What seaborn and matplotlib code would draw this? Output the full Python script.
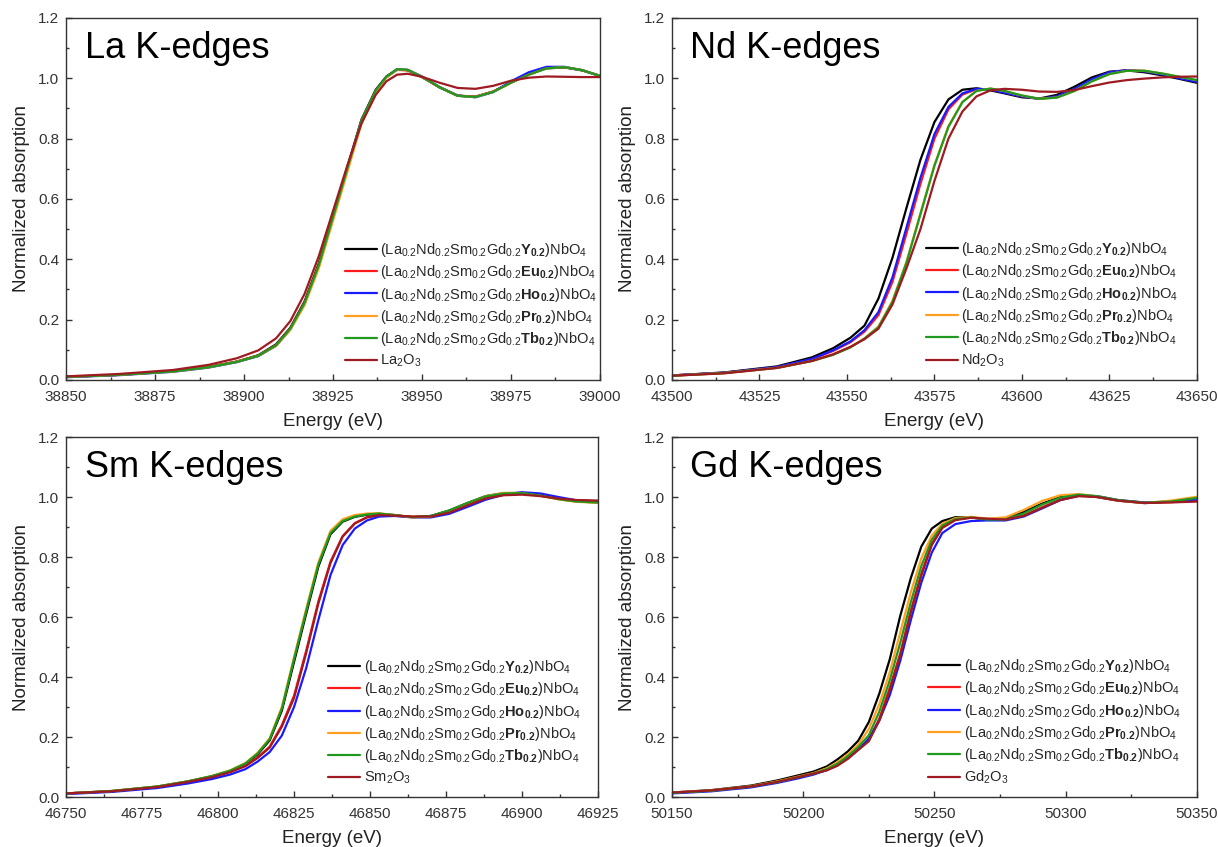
import pandas as pd
import numpy as np
import seaborn as sns
import matplotlib.pyplot as plt
from matplotlib.ticker import AutoMinorLocator, MultipleLocator, FormatStrFormatter

sns.set_theme(style='ticks')
plt.rcParams['font.family'] = ['Liberation Sans', 'DejaVu Sans']
plt.rcParams['mathtext.fontset'] = 'custom'
plt.rcParams['mathtext.rm'] = 'Liberation Sans'
plt.rcParams['mathtext.it'] = 'Liberation Sans:italic'
plt.rcParams['mathtext.bf'] = 'Liberation Sans:bold'

# sample names, legend order
dopants = ['Y', 'Eu', 'Ho', 'Pr', 'Tb']
colors = ['#000000', '#ff1a1a', '#1a1aff', '#ffa020', '#1f9a1f', '#9e1b22']

# ---- La K-edge ----
la_energy = [38850, 38865, 38880, 38890, 38898, 38904, 38909, 38913, 38917, 38921, 38925, 38929, 38933, 38937,
             38940, 38943, 38946, 38950, 38955, 38960, 38965, 38970, 38975, 38980, 38985, 38990, 38995, 39000]
la_y = [0.010, 0.017, 0.029, 0.043, 0.061, 0.082, 0.118, 0.173, 0.260, 0.386, 0.546, 0.705, 0.863, 0.962,
        1.006, 1.030, 1.027, 1.004, 0.969, 0.942, 0.939, 0.956, 0.986, 1.013, 1.033, 1.036, 1.026, 1.008]
la_eu = [0.010, 0.017, 0.029, 0.043, 0.061, 0.081, 0.116, 0.171, 0.257, 0.383, 0.543, 0.702, 0.861, 0.960,
         1.004, 1.028, 1.026, 1.004, 0.970, 0.943, 0.939, 0.956, 0.986, 1.013, 1.034, 1.037, 1.027, 1.008]
la_ho = [0.009, 0.016, 0.027, 0.041, 0.059, 0.079, 0.113, 0.167, 0.252, 0.377, 0.537, 0.698, 0.858, 0.959,
         1.004, 1.029, 1.028, 1.006, 0.971, 0.943, 0.937, 0.954, 0.990, 1.020, 1.038, 1.038, 1.027, 1.008]
la_pr = [0.010, 0.017, 0.028, 0.042, 0.060, 0.080, 0.113, 0.166, 0.248, 0.370, 0.528, 0.688, 0.850, 0.955,
         1.002, 1.029, 1.028, 1.005, 0.970, 0.942, 0.938, 0.955, 0.985, 1.012, 1.033, 1.037, 1.027, 1.008]
la_tb = [0.010, 0.017, 0.028, 0.042, 0.060, 0.080, 0.115, 0.170, 0.255, 0.380, 0.540, 0.700, 0.860, 0.960,
         1.005, 1.030, 1.028, 1.005, 0.970, 0.942, 0.938, 0.955, 0.985, 1.012, 1.033, 1.037, 1.027, 1.008]
la_oxide = [0.012, 0.020, 0.033, 0.050, 0.072, 0.098, 0.138, 0.195, 0.285, 0.410, 0.560, 0.710, 0.850, 0.945,
            0.990, 1.012, 1.015, 1.005, 0.985, 0.968, 0.965, 0.975, 0.992, 1.002, 1.006, 1.005, 1.004, 1.004]

# ---- Nd K-edge ----
nd_energy = [43500, 43515, 43530, 43540, 43546, 43551, 43555, 43559, 43563, 43567, 43571, 43575, 43579, 43583,
             43587, 43591, 43595, 43600, 43605, 43610, 43615, 43620, 43625, 43630, 43635, 43640, 43645, 43650]
nd_y = [0.015, 0.025, 0.045, 0.075, 0.105, 0.140, 0.180, 0.270, 0.405, 0.570, 0.730, 0.855, 0.930, 0.962,
        0.967, 0.960, 0.950, 0.937, 0.933, 0.945, 0.972, 1.003, 1.022, 1.026, 1.020, 1.010, 0.998, 0.985]
nd_eu = [0.015, 0.024, 0.042, 0.069, 0.096, 0.125, 0.160, 0.215, 0.325, 0.485, 0.650, 0.800, 0.897, 0.946,
         0.964, 0.964, 0.953, 0.940, 0.932, 0.939, 0.963, 0.995, 1.019, 1.027, 1.024, 1.014, 1.002, 0.990]
nd_ho = [0.015, 0.024, 0.043, 0.070, 0.098, 0.128, 0.165, 0.225, 0.340, 0.505, 0.670, 0.815, 0.905, 0.950,
         0.965, 0.963, 0.952, 0.940, 0.932, 0.940, 0.965, 0.997, 1.020, 1.027, 1.023, 1.013, 1.000, 0.988]
nd_pr = [0.014, 0.023, 0.040, 0.063, 0.084, 0.109, 0.138, 0.177, 0.262, 0.392, 0.553, 0.713, 0.842, 0.922,
         0.958, 0.966, 0.958, 0.943, 0.932, 0.936, 0.958, 0.990, 1.014, 1.025, 1.025, 1.016, 1.005, 0.994]
nd_tb = [0.014, 0.023, 0.040, 0.063, 0.083, 0.108, 0.137, 0.175, 0.259, 0.388, 0.549, 0.710, 0.839, 0.921,
         0.958, 0.966, 0.958, 0.943, 0.932, 0.936, 0.958, 0.990, 1.014, 1.025, 1.025, 1.016, 1.005, 0.994]
nd_oxide = [0.014, 0.022, 0.040, 0.063, 0.085, 0.110, 0.135, 0.170, 0.250, 0.370, 0.500, 0.660, 0.800, 0.890,
            0.940, 0.960, 0.965, 0.962, 0.956, 0.955, 0.961, 0.974, 0.986, 0.994, 0.999, 1.003, 1.005, 1.006]

# ---- Sm K-edge ----
sm_energy = [46750, 46765, 46780, 46790, 46798, 46804, 46809, 46813, 46817, 46821, 46825, 46829, 46833, 46837, 46841,
             46845, 46849, 46853, 46858, 46864, 46870, 46876, 46882, 46888, 46894, 46900, 46906, 46912, 46918, 46925]
sm_y = [0.012, 0.020, 0.035, 0.052, 0.069, 0.087, 0.110, 0.142, 0.189, 0.288, 0.450, 0.611, 0.768, 0.876, 0.918,
        0.934, 0.941, 0.944, 0.940, 0.933, 0.937, 0.955, 0.980, 1.003, 1.013, 1.014, 1.006, 0.994, 0.985, 0.982]
sm_eu = [0.012, 0.019, 0.033, 0.050, 0.066, 0.084, 0.104, 0.132, 0.168, 0.240, 0.338, 0.488, 0.652, 0.785, 0.870,
         0.913, 0.933, 0.940, 0.938, 0.934, 0.935, 0.950, 0.975, 0.998, 1.009, 1.011, 1.005, 0.995, 0.989, 0.987]
sm_ho = [0.010, 0.017, 0.030, 0.045, 0.060, 0.075, 0.093, 0.118, 0.150, 0.205, 0.300, 0.430, 0.590, 0.740, 0.840,
         0.895, 0.922, 0.935, 0.937, 0.932, 0.932, 0.944, 0.967, 0.991, 1.008, 1.016, 1.012, 1.000, 0.989, 0.985]
sm_pr = [0.012, 0.020, 0.035, 0.052, 0.070, 0.089, 0.113, 0.147, 0.196, 0.300, 0.466, 0.627, 0.782, 0.887, 0.926,
         0.940, 0.945, 0.946, 0.940, 0.932, 0.935, 0.953, 0.979, 1.003, 1.014, 1.013, 1.004, 0.992, 0.984, 0.981]
sm_tb = [0.012, 0.020, 0.035, 0.052, 0.070, 0.088, 0.112, 0.145, 0.193, 0.295, 0.460, 0.620, 0.775, 0.880, 0.920,
         0.935, 0.942, 0.945, 0.940, 0.933, 0.937, 0.955, 0.980, 1.002, 1.012, 1.013, 1.005, 0.993, 0.985, 0.982]
sm_oxide = [0.012, 0.019, 0.033, 0.050, 0.066, 0.083, 0.103, 0.130, 0.165, 0.235, 0.330, 0.480, 0.645, 0.780, 0.868,
            0.912, 0.932, 0.940, 0.938, 0.935, 0.935, 0.948, 0.972, 0.995, 1.006, 1.008, 1.003, 0.995, 0.990, 0.988]

# ---- Gd K-edge ----
gd_energy = [50150, 50165, 50180, 50190, 50198, 50204, 50209, 50213, 50217, 50221, 50225, 50229, 50233, 50237, 50241,
             50245, 50249, 50253, 50258, 50264, 50270, 50277, 50284, 50291, 50298, 50305, 50312, 50320, 50330, 50340,
             50350]
gd_y = [0.015, 0.023, 0.038, 0.055, 0.072, 0.085, 0.102, 0.125, 0.152, 0.188, 0.250, 0.345, 0.460, 0.605, 0.730,
        0.835, 0.895, 0.920, 0.933, 0.932, 0.925, 0.928, 0.950, 0.978, 1.000, 1.007, 1.000, 0.988, 0.980, 0.985, 0.995]
gd_eu = [0.014, 0.021, 0.035, 0.050, 0.066, 0.079, 0.090, 0.106, 0.130, 0.160, 0.190, 0.262, 0.365, 0.480, 0.622,
         0.745, 0.845, 0.900, 0.925, 0.932, 0.927, 0.924, 0.938, 0.966, 0.991, 1.004, 1.001, 0.989, 0.981, 0.983, 0.987]
gd_ho = [0.012, 0.019, 0.032, 0.047, 0.062, 0.075, 0.090, 0.108, 0.130, 0.158, 0.195, 0.255, 0.340, 0.455, 0.590,
         0.715, 0.815, 0.880, 0.910, 0.920, 0.922, 0.922, 0.935, 0.962, 0.990, 1.005, 1.003, 0.990, 0.982, 0.985, 0.992]
gd_pr = [0.015, 0.022, 0.036, 0.052, 0.068, 0.080, 0.096, 0.116, 0.142, 0.175, 0.227, 0.310, 0.417, 0.550, 0.683,
         0.796, 0.872, 0.911, 0.930, 0.934, 0.928, 0.932, 0.957, 0.987, 1.006, 1.010, 1.002, 0.988, 0.980, 0.988, 1.001]
gd_tb = [0.014, 0.021, 0.035, 0.050, 0.066, 0.078, 0.093, 0.111, 0.136, 0.167, 0.206, 0.285, 0.390, 0.515, 0.650,
         0.770, 0.858, 0.905, 0.927, 0.932, 0.925, 0.925, 0.945, 0.975, 0.998, 1.008, 1.003, 0.990, 0.981, 0.985, 0.997]
gd_oxide = [0.015, 0.022, 0.035, 0.050, 0.066, 0.078, 0.089, 0.104, 0.127, 0.157, 0.186, 0.255, 0.357, 0.473, 0.615,
            0.738, 0.840, 0.897, 0.923, 0.931, 0.928, 0.925, 0.937, 0.964, 0.990, 1.003, 1.000, 0.988, 0.980, 0.982,
            0.985]


def sample_label(d):
    return (r'(La$_{0.2}$Nd$_{0.2}$Sm$_{0.2}$Gd$_{0.2}$$\mathbf{' + d + r'}_{\mathbf{0.2}}$)NbO$_4$')


panels = [
    ('La', la_energy, [la_y, la_eu, la_ho, la_pr, la_tb, la_oxide], (38850, 39000), 25,
     [0.0542, 0.5514, 0.4384, 0.4274], 0.995),
    ('Nd', nd_energy, [nd_y, nd_eu, nd_ho, nd_pr, nd_tb, nd_oxide], (43500, 43650), 25,
     [0.5517, 0.5514, 0.4310, 0.4274], 0.965),
    ('Sm', sm_energy, [sm_y, sm_eu, sm_ho, sm_pr, sm_tb, sm_oxide], (46750, 46925), 25,
     [0.0542, 0.0590, 0.4368, 0.4250], 0.968),
    ('Gd', gd_energy, [gd_y, gd_eu, gd_ho, gd_pr, gd_tb, gd_oxide], (50150, 50350), 50,
     [0.5517, 0.0590, 0.4310, 0.4250], 0.970),
]

fig = plt.figure(figsize=(12.18, 8.47), dpi=100)

for el, energy, series, xlim, xstep, rect, leg_x in panels:
    ax = fig.add_axes(rect)
    labels = [sample_label(d) for d in dopants] + [el + r'$_2$O$_3$']
    frames = []
    for lab, vals in zip(labels, series):
        frames.append(pd.DataFrame({'energy': energy, 'absorption': vals, 'sample': lab}))
    df = pd.concat(frames, ignore_index=True)

    sns.lineplot(data=df, x='energy', y='absorption', hue='sample', hue_order=labels,
                 palette=colors, estimator=None, sort=False, linewidth=1.6, ax=ax, legend=False)

    ax.set_xlim(*xlim)
    ax.set_ylim(0, 1.2)
    ax.xaxis.set_major_locator(MultipleLocator(xstep))
    ax.xaxis.set_minor_locator(AutoMinorLocator(2))
    ax.yaxis.set_major_locator(MultipleLocator(0.2))
    ax.yaxis.set_minor_locator(AutoMinorLocator(2))
    ax.yaxis.set_major_formatter(FormatStrFormatter('%.1f'))
    ax.tick_params(which='both', direction='in', top=False, right=False, colors='#333333', labelsize=11)
    ax.tick_params(which='major', length=4.5, width=1)
    ax.tick_params(which='minor', length=2.5, width=1)
    ax.tick_params(axis='x', which='major', pad=7)
    ax.tick_params(axis='y', which='major', pad=5)
    for sp in ax.spines.values():
        sp.set_color('#333333')
        sp.set_linewidth(1)

    ax.set_xlabel('Energy (eV)', fontsize=13.5, color='#222222', labelpad=7)
    ax.set_ylabel('Normalized absorption', fontsize=13.5, color='#222222', labelpad=6)
    ax.text(0.035, 0.965, el + ' K-edges', transform=ax.transAxes, ha='left', va='top',
            fontsize=26, color='#000000')

    ax.legend(ax.lines, labels, loc='lower right', bbox_to_anchor=(leg_x, 0.03), frameon=False,
              fontsize=10.5, handlelength=2.2, handletextpad=0.25, labelspacing=0.3,
              borderaxespad=0.0, borderpad=0.0)

fig.savefig('out.png', dpi=100)
